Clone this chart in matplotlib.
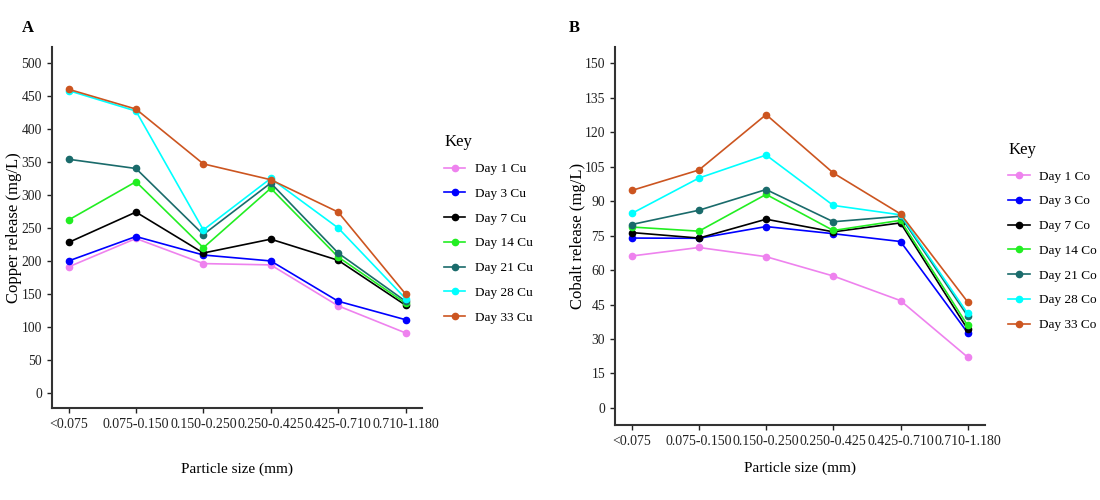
import matplotlib
matplotlib.use('Agg')
import matplotlib.pyplot as plt
import numpy as np

plt.rcParams['font.family'] = ['Liberation Serif', 'DejaVu Serif']

sizes = ['<0.075', '0.075-0.150', '0.150-0.250', '0.250-0.425', '0.425-0.710', '0.710-1.180']
days = ['Day 1', 'Day 3', 'Day 7', 'Day 14', 'Day 21', 'Day 28', 'Day 33']
colors = ['#EE82EE', '#0000FF', '#000000', '#22EE22', '#1A6B6B', '#00FFFF', '#CC5520']

# copper release (mg/L), one list per day
cu_day1 = [191, 234, 196, 194, 132, 91]
cu_day3 = [200, 237, 209, 200, 139, 111]
cu_day7 = [228, 274, 212, 233, 201, 133]
cu_day14 = [262, 320, 220, 310, 206, 136]
cu_day21 = [354, 340, 240, 318, 212, 139]
cu_day28 = [458, 427, 247, 325, 250, 143]
cu_day33 = [460, 430, 347, 323, 274, 150]

# cobalt release (mg/L)
co_day1 = [66.1, 69.8, 65.8, 57.4, 46.7, 22.1]
co_day3 = [73.9, 73.8, 78.9, 75.8, 72.4, 32.7]
co_day7 = [76.3, 73.9, 82.1, 76.6, 80.5, 34.2]
co_day14 = [78.7, 76.9, 92.9, 77.2, 81.6, 35.9]
co_day21 = [79.8, 86.0, 95.0, 81.0, 83.4, 40.0]
co_day28 = [84.6, 100.0, 110.0, 88.1, 84.0, 41.1]
co_day33 = [94.6, 103.5, 127.6, 102.2, 84.4, 46.1]

cu_series = [cu_day1, cu_day3, cu_day7, cu_day14, cu_day21, cu_day28, cu_day33]
co_series = [co_day1, co_day3, co_day7, co_day14, co_day21, co_day28, co_day33]

fig = plt.figure(figsize=(11, 5), dpi=100)
ax_a = fig.add_axes([0.047, 0.184, 0.337, 0.722])
ax_b = fig.add_axes([0.559, 0.150, 0.336, 0.756])

x = np.arange(len(sizes))


def draw_panel(ax, series, metal, ylim, yticks, ylabel, legend_xy, xlabel_y, ylabel_x):
    for vals, day, col in zip(series, days, colors):
        ax.plot(x, vals, '-o', color=col, lw=1.2, ms=4.5, label='{} {}'.format(day, metal))
    ax.set_xlim(-0.25, 5.25)
    ax.set_ylim(*ylim)
    ax.set_yticks(yticks)
    ax.set_xticks(x)
    ax.set_xticklabels(sizes)
    ax.tick_params(axis='y', labelsize=9.8, length=3.5, width=1, colors='#222222')
    ax.tick_params(axis='x', labelsize=10, length=3.5, width=1, colors='#222222', pad=4)
    for side in ['top', 'right']:
        ax.spines[side].set_visible(False)
    for side in ['left', 'bottom']:
        ax.spines[side].set_linewidth(1.5)
        ax.spines[side].set_color('#333333')
    ax.set_ylabel(ylabel, fontsize=12)
    ax.yaxis.set_label_coords(ylabel_x, 0.5)
    ax.set_xlabel('Particle size (mm)', fontsize=11)
    ax.xaxis.set_label_coords(0.5, xlabel_y)
    leg = ax.legend(title='Key', loc='upper left', bbox_to_anchor=legend_xy,
                    bbox_transform=fig.transFigure, frameon=False, fontsize=9.5,
                    title_fontsize=12, labelspacing=0.95, handlelength=1.6,
                    handletextpad=0.75, alignment='left')
    return leg


draw_panel(ax_a, cu_series, 'Cu', (-22.7, 524), np.arange(0, 501, 50),
           'Copper release (mg/L)', (0.393, 0.755), -0.15, -0.08)
draw_panel(ax_b, co_series, 'Co', (-7.4, 157), np.arange(0, 151, 15),
           'Cobalt release (mg/L)', (0.906, 0.74), -0.097, -0.077)

fig.text(0.02, 0.935, 'A', fontsize=12, fontweight='bold')
fig.text(0.517, 0.935, 'B', fontsize=12, fontweight='bold')

fig.savefig('out.png', dpi=100)
